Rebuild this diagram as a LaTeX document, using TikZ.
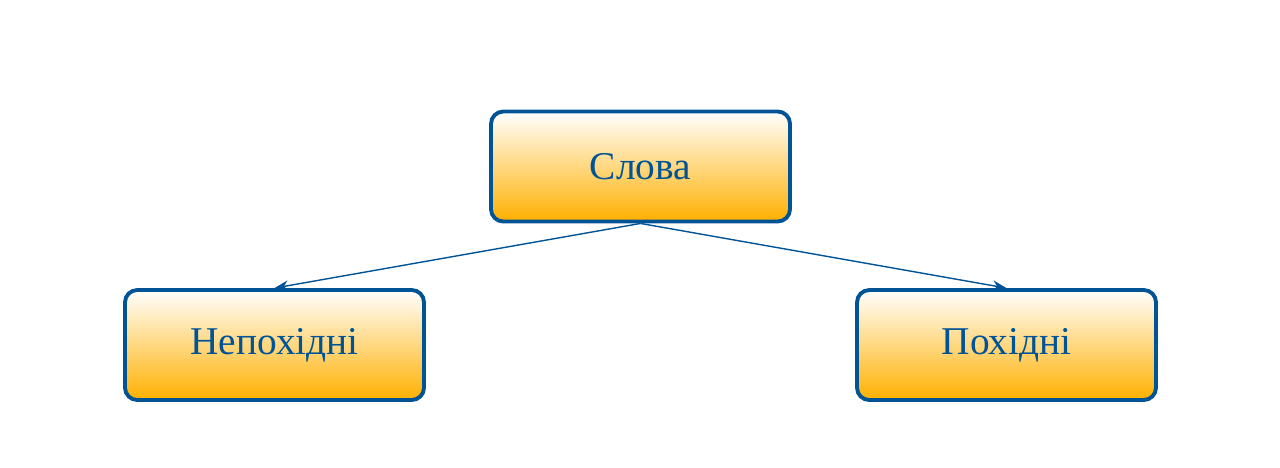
\documentclass[tikz,border=0pt]{standalone}
\usepackage{fontspec}
\setmainfont{Liberation Serif}
\usetikzlibrary{arrows.meta}
\definecolor{boxblue}{RGB}{0,84,150}
\definecolor{boxorange}{RGB}{255,176,0}

\begin{document}
\begin{tikzpicture}[
    wordbox/.style={draw=boxblue, line width=1.1pt, rounded corners=3.5pt,
      top color=white, bottom color=boxorange,
      minimum width=2.99cm, minimum height=1.1cm,
      text=boxblue, font=\fontsize{11.2}{14}\selectfont},
    link/.style={-{Stealth[length=4pt,width=3pt]}, draw=boxblue, line width=0.4pt}]
  % рамка рисунка
  \useasboundingbox (0,0) rectangle (12.8,-4.67);
  % вузли
  \node[wordbox] (slova) at (6.405,-1.665) {Слова};
  \node[wordbox] (nepokh) at (2.745,-3.45) {Непохідні};
  \node[wordbox] (pokh) at (10.065,-3.45) {Похідні};
  % стрілки
  \draw[link] (slova.south) -- (nepokh.north);
  \draw[link] (slova.south) -- (pokh.north);
\end{tikzpicture}
\end{document}
